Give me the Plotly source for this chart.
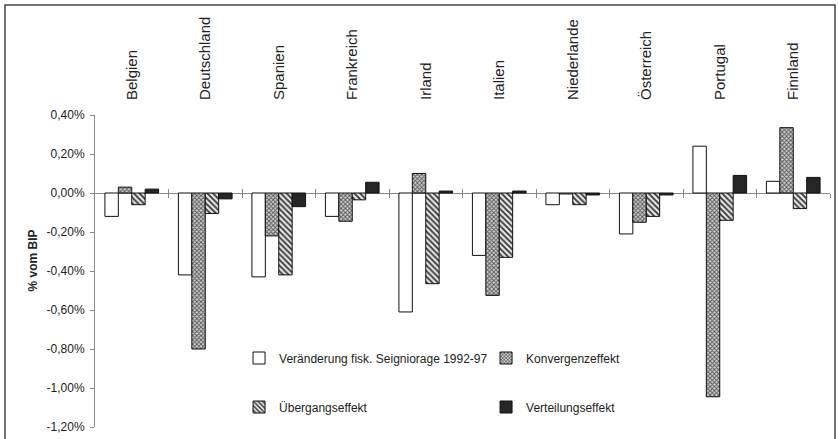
import plotly.graph_objects as go

categories = ["Belgien", "Deutschland", "Spanien", "Frankreich", "Irland",
              "Italien", "Niederlande", "Österreich", "Portugal", "Finnland"]
seigniorage = [-0.12, -0.42, -0.43, -0.12, -0.61, -0.32, -0.06, -0.21, 0.24, 0.06]
konvergenz = [0.03, -0.80, -0.22, -0.145, 0.10, -0.525, -0.005, -0.15, -1.045, 0.335]
uebergang = [-0.06, -0.105, -0.42, -0.035, -0.465, -0.33, -0.06, -0.12, -0.14, -0.08]
verteilung = [0.02, -0.03, -0.07, 0.055, 0.01, 0.01, -0.01, -0.01, 0.09, 0.08]
y_ticks = [0.4, 0.2, 0.0, -0.2, -0.4, -0.6, -0.8, -1.0, -1.2]
y_ticktext = [("%.2f%%" % v).replace(".", ",") for v in y_ticks]

FONT = "Liberation Sans, Arial, sans-serif"
TXT = "#222222"
AX = "#8a8a8a"
ymin, ymax = -1.2, 0.4

fig = go.Figure()
fig.add_bar(x=categories, y=seigniorage, name="Veränderung fisk. Seigniorage 1992-97",
            marker=dict(color="white", line=dict(color="#111", width=1)), legend="legend")
fig.add_bar(x=categories, y=konvergenz, name="Konvergenzeffekt",
            marker=dict(color="#9a9a9a", line=dict(color="#111", width=1),
                        pattern=dict(shape="x", size=3, solidity=0.5,
                                     fgcolor="#555", bgcolor="#d0d0d0", fillmode="replace")),
            legend="legend")
fig.add_bar(x=categories, y=uebergang, name="Übergangseffekt",
            marker=dict(color="#777", line=dict(color="#111", width=1),
                        pattern=dict(shape="\\", size=4, solidity=0.45,
                                     fgcolor="#333", bgcolor="#e6e6e6", fillmode="replace")),
            legend="legend2")
fig.add_bar(x=categories, y=verteilung, name="Verteilungseffekt",
            marker=dict(color="#262626", line=dict(color="#111", width=1)),
            legend="legend2")

n = len(categories)
bounds = [i + 0.5 for i in range(n)]
zero_pos = (0 - ymin) / (ymax - ymin)

# invisible helpers so the overlay axes (category boundary ticks on the zero line) render
for ax in ("x2", "x3"):
    fig.add_scatter(x=bounds, y=[0] * n, xaxis=ax, mode="markers",
                    marker=dict(opacity=0, size=1), showlegend=False, hoverinfo="skip")

fig.update_layout(
    width=838, height=439,
    margin=dict(l=95, r=8, t=115, b=12, autoexpand=False),
    paper_bgcolor="white", plot_bgcolor="white",
    barmode="group", bargap=0.27, bargroupgap=0,
    font=dict(family=FONT, size=12, color=TXT),
    hovermode=False,
    xaxis=dict(side="top", tickangle=-90, showline=False, ticks="", automargin=False,
               showgrid=False, zeroline=False, ticklabelstandoff=14,
               tickfont=dict(size=15), range=[-0.5, n - 0.5]),
    xaxis2=dict(overlaying="x", anchor="free", position=zero_pos, range=[-0.5, n - 0.5],
                showline=False, tickvals=bounds, automargin=False,
                ticks="outside", ticklen=4, tickcolor=AX, showticklabels=False,
                showgrid=False, zeroline=False),
    xaxis3=dict(overlaying="x", anchor="free", position=zero_pos, range=[-0.5, n - 0.5],
                showline=False, tickvals=bounds, automargin=False,
                ticks="inside", ticklen=4, tickcolor=AX, showticklabels=False,
                showgrid=False, zeroline=False),
    yaxis=dict(range=[ymin, ymax], tickvals=y_ticks, ticktext=y_ticktext, automargin=False,
               showline=True, linecolor=AX, linewidth=1, ticks="outside", ticklen=4,
               tickcolor=AX, showgrid=False, zeroline=True, zerolinecolor=AX, zerolinewidth=1,
               ticklabelstandoff=3, tickfont=dict(size=12)),
    legend=dict(orientation="h", x=0.196, y=(427 - 358) / 312, xanchor="left", yanchor="middle",
                entrywidth=202, entrywidthmode="pixels", font=dict(size=12),
                bgcolor="rgba(0,0,0,0)", itemwidth=30, traceorder="normal"),
    legend2=dict(orientation="h", x=0.196, y=(427 - 407) / 312, xanchor="left", yanchor="middle",
                 entrywidth=202, entrywidthmode="pixels", font=dict(size=12),
                 bgcolor="rgba(0,0,0,0)", itemwidth=30, traceorder="normal"),
    showlegend=True,
)

fig.add_annotation(text="<b>% vom BIP</b>", textangle=-90, xref="paper", yref="paper",
                   x=(32.5 - 95) / 735, y=(427 - 261) / 312, showarrow=False,
                   font=dict(size=12, color=TXT), xanchor="center", yanchor="middle")

# outer frame of the scanned figure
fig.add_shape(type="rect", xref="paper", yref="paper",
              x0=(5 - 95) / 735, x1=(835 - 95) / 735, y0=(427 - 445) / 312, y1=(427 - 5) / 312,
              line=dict(color="#444", width=1.5), fillcolor="rgba(0,0,0,0)", layer="below")

fig.write_html("out.html", config={"displayModeBar": False},
               post_script="document.body.style.margin='0';")
